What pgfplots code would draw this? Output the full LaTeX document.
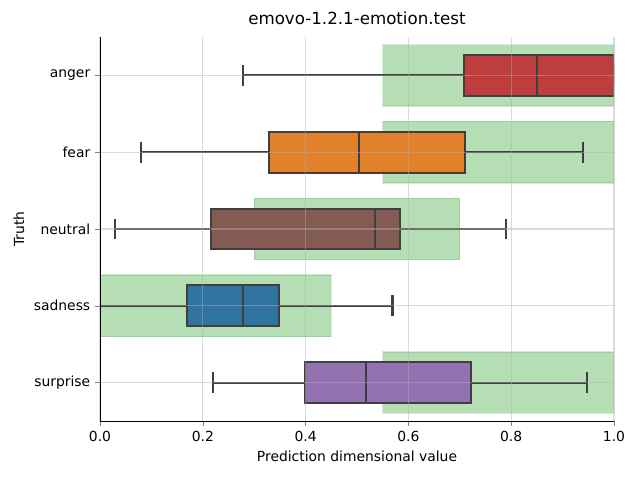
\documentclass[border=0pt]{standalone}
\usepackage{fontspec}
\setmainfont{DejaVu Sans}
\usepackage{pgfplots}
\pgfplotsset{compat=1.18}
\usepgfplotslibrary{statistics}

\definecolor{cred}{HTML}{C03D3E}
\definecolor{corange}{HTML}{E1812C}
\definecolor{cbrown}{HTML}{845B53}
\definecolor{cblue}{HTML}{3274A1}
\definecolor{cpurple}{HTML}{9372B2}
\definecolor{cgreen}{HTML}{2CA02C}
\definecolor{cedge}{HTML}{3F3F3F}
\definecolor{cgrid}{HTML}{B0B0B0}

\begin{document}
\begin{tikzpicture}
\begin{axis}[
    at={(0,0)}, anchor=south west,
    scale only axis,
    width=370.08pt, height=276.48pt,
    xmin=0, xmax=1,
    ymin=-0.5, ymax=4.5,
    y dir=reverse,
    axis lines*=left,
    axis on top,
    tick align=outside,
    major tick length=3.5pt,
    xtick={0,0.2,...,1},
    ytick={0,1,2,3,4},
    yticklabels={anger,fear,neutral,sadness,surprise},
    xticklabel style={/pgf/number format/.cd,fixed,fixed zerofill,precision=1},
    /pgf/number format/assume math mode=true,
    tick label style={font=\fontsize{10}{12}\selectfont},
    label style={font=\fontsize{10}{12}\selectfont},
    grid=major,
    grid style={cgrid, opacity=0.45, line width=0.8pt},
    xlabel={Prediction dimensional value},
    ylabel={Truth},
    title={emovo-1.2.1-emotion.test},
    title style={font=\fontsize{12}{14}\selectfont, yshift=-1pt},
    boxplot/draw direction=x,
    boxplot/box extend=0.53,
    boxplot/whisker extend=0.27,
    range/.style={fill=cgreen, fill opacity=0.35, draw=cgreen, draw opacity=0.2, line width=1pt},
]
% expected ranges
\addplot[range] coordinates {(0.55,-0.4) (1.02,-0.4) (1.02,0.4) (0.55,0.4)} -- cycle;
\addplot[range] coordinates {(0.55,0.6) (1.02,0.6) (1.02,1.4) (0.55,1.4)} -- cycle;
\addplot[range] coordinates {(0.3,1.6) (0.7,1.6) (0.7,2.4) (0.3,2.4)} -- cycle;
\addplot[range] coordinates {(-0.05,2.6) (0.45,2.6) (0.45,3.4) (-0.05,3.4)} -- cycle;
\addplot[range] coordinates {(0.55,3.6) (1.02,3.6) (1.02,4.4) (0.55,4.4)} -- cycle;

% boxes
\addplot[fill=cred, draw=cedge, line width=1.5pt, boxplot prepared={
    lower whisker=0.279, lower quartile=0.708, median=0.850,
    upper quartile=1.0, upper whisker=1.0, draw position=0}] coordinates {};
\addplot[fill=corange, draw=cedge, line width=1.5pt, boxplot prepared={
    lower whisker=0.079, lower quartile=0.329, median=0.504,
    upper quartile=0.710, upper whisker=0.940, draw position=1}] coordinates {};
\addplot[fill=cbrown, draw=cedge, line width=1.5pt, boxplot prepared={
    lower whisker=0.030, lower quartile=0.216, median=0.535,
    upper quartile=0.583, upper whisker=0.789, draw position=2}] coordinates {};
\addplot[fill=cblue, draw=cedge, line width=1.5pt, boxplot prepared={
    lower whisker=-0.05, lower quartile=0.170, median=0.279,
    upper quartile=0.349, upper whisker=0.569, draw position=3}] coordinates {};
\addplot[fill=cpurple, draw=cedge, line width=1.5pt, boxplot prepared={
    lower whisker=0.219, lower quartile=0.399, median=0.518,
    upper quartile=0.721, upper whisker=0.948, draw position=4}] coordinates {};
\end{axis}
\useasboundingbox (-72pt,-42.48pt) rectangle (388.8pt,303.12pt);
\end{tikzpicture}
\end{document}
